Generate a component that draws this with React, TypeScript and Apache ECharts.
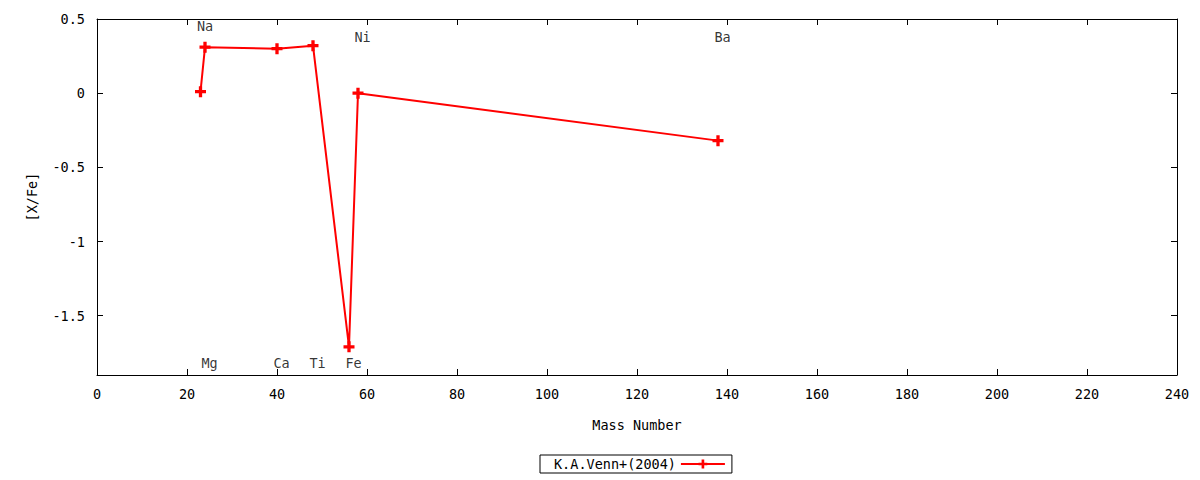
import * as echarts from "echarts";
import { useEffect, useRef } from "react";

// Venn et al. (2004) abundances
const massNumbers = [23, 24, 40, 48, 56, 58, 138];
const xFe = [0.01, 0.31, 0.3, 0.32, -1.71, 0.0, -0.32];

// element labels drawn in the plot
const elementNames = ["Na", "Mg", "Ca", "Ti", "Fe", "Ni", "Ba"];
const labelX = [24, 25, 41, 49, 57, 59, 139];
const labelY = [0.45, -1.82, -1.82, -1.82, -1.82, 0.38, 0.38];

const yTicks = [-1.5, -1, -0.5, 0, 0.5];

const FONT = "DejaVu Sans Mono";
const PLUS = "path://M3.5,0H6.5V3.5H10V6.5H6.5V10H3.5V6.5H0V3.5H3.5Z";

const App: React.FC = () => {
    const chartRef = useRef<HTMLDivElement>(null);

    useEffect(() => {
        const chart = echarts.init(chartRef.current!, undefined, { renderer: "svg" });

        const xBase = {
            type: "value",
            min: 0,
            max: 240,
            interval: 20,
            axisLine: { show: true, onZero: false, lineStyle: { color: "#000", width: 1 } },
            axisTick: { show: true, inside: true, length: 6, lineStyle: { color: "#000" } },
            splitLine: { show: false },
        };
        const yBase = {
            type: "value",
            min: -1.9,
            max: 0.5,
            axisLine: { show: true, onZero: false, lineStyle: { color: "#000", width: 1 } },
            axisTick: {
                show: true,
                inside: true,
                length: 6,
                customValues: yTicks,
                lineStyle: { color: "#000" },
            },
            splitLine: { show: false },
        };

        const option = {
            animation: false,
            textStyle: { fontFamily: FONT },
            grid: { left: 97, right: 23, top: 19, bottom: 105, containLabel: false },
            legend: {
                data: ["K.A.Venn+(2004)"],
                left: 540,
                top: 455,
                align: "right",
                orient: "horizontal",
                padding: [2, 6, 2, 14],
                itemWidth: 44,
                itemHeight: 11,
                borderColor: "#000",
                borderWidth: 1,
                borderRadius: 0,
                textStyle: { fontFamily: FONT, fontSize: 13.5, color: "#000" },
            },
            xAxis: [
                {
                    ...xBase,
                    position: "bottom",
                    name: "Mass Number",
                    nameLocation: "middle",
                    nameGap: 43,
                    nameTextStyle: { fontFamily: FONT, fontSize: 13.5, color: "#000" },
                    axisLabel: { margin: 12, fontFamily: FONT, fontSize: 13.5, color: "#000" },
                },
                {
                    ...xBase,
                    position: "top",
                    axisLabel: { show: false },
                },
            ],
            yAxis: [
                {
                    ...yBase,
                    position: "left",
                    name: "[X/Fe]",
                    nameLocation: "middle",
                    nameGap: 58,
                    nameTextStyle: { fontFamily: FONT, fontSize: 13.5, color: "#000" },
                    axisLabel: {
                        margin: 12,
                        customValues: yTicks,
                        showMaxLabel: true,
                        fontFamily: FONT,
                        fontSize: 13.5,
                        color: "#000",
                    },
                },
                {
                    ...yBase,
                    position: "right",
                    axisLabel: { show: false },
                },
            ],
            series: [
                {
                    name: "K.A.Venn+(2004)",
                    type: "line",
                    data: massNumbers.map((m, i) => [m, xFe[i]]),
                    symbol: PLUS,
                    symbolSize: 11,
                    showAllSymbol: true,
                    itemStyle: { color: "#ff0000" },
                    lineStyle: { color: "#ff0000", width: 2 },
                },
                {
                    name: "labels",
                    type: "scatter",
                    symbolSize: 0,
                    silent: true,
                    data: elementNames.map((n, i) => ({ name: n, value: [labelX[i], labelY[i]] })),
                    label: {
                        show: true,
                        position: "inside",
                        formatter: "{b}",
                        fontFamily: FONT,
                        fontSize: 13.5,
                        color: "#000",
                    },
                },
            ],
        };

        chart.setOption(option as any);

        return () => {
            chart.dispose();
        };
    }, []);

    return (
        <div
            ref={chartRef}
            style={{
                position: "absolute",
                left: 0,
                top: 0,
                width: "1200px",
                height: "480px",
            }}
        />
    );
};

export default App;
